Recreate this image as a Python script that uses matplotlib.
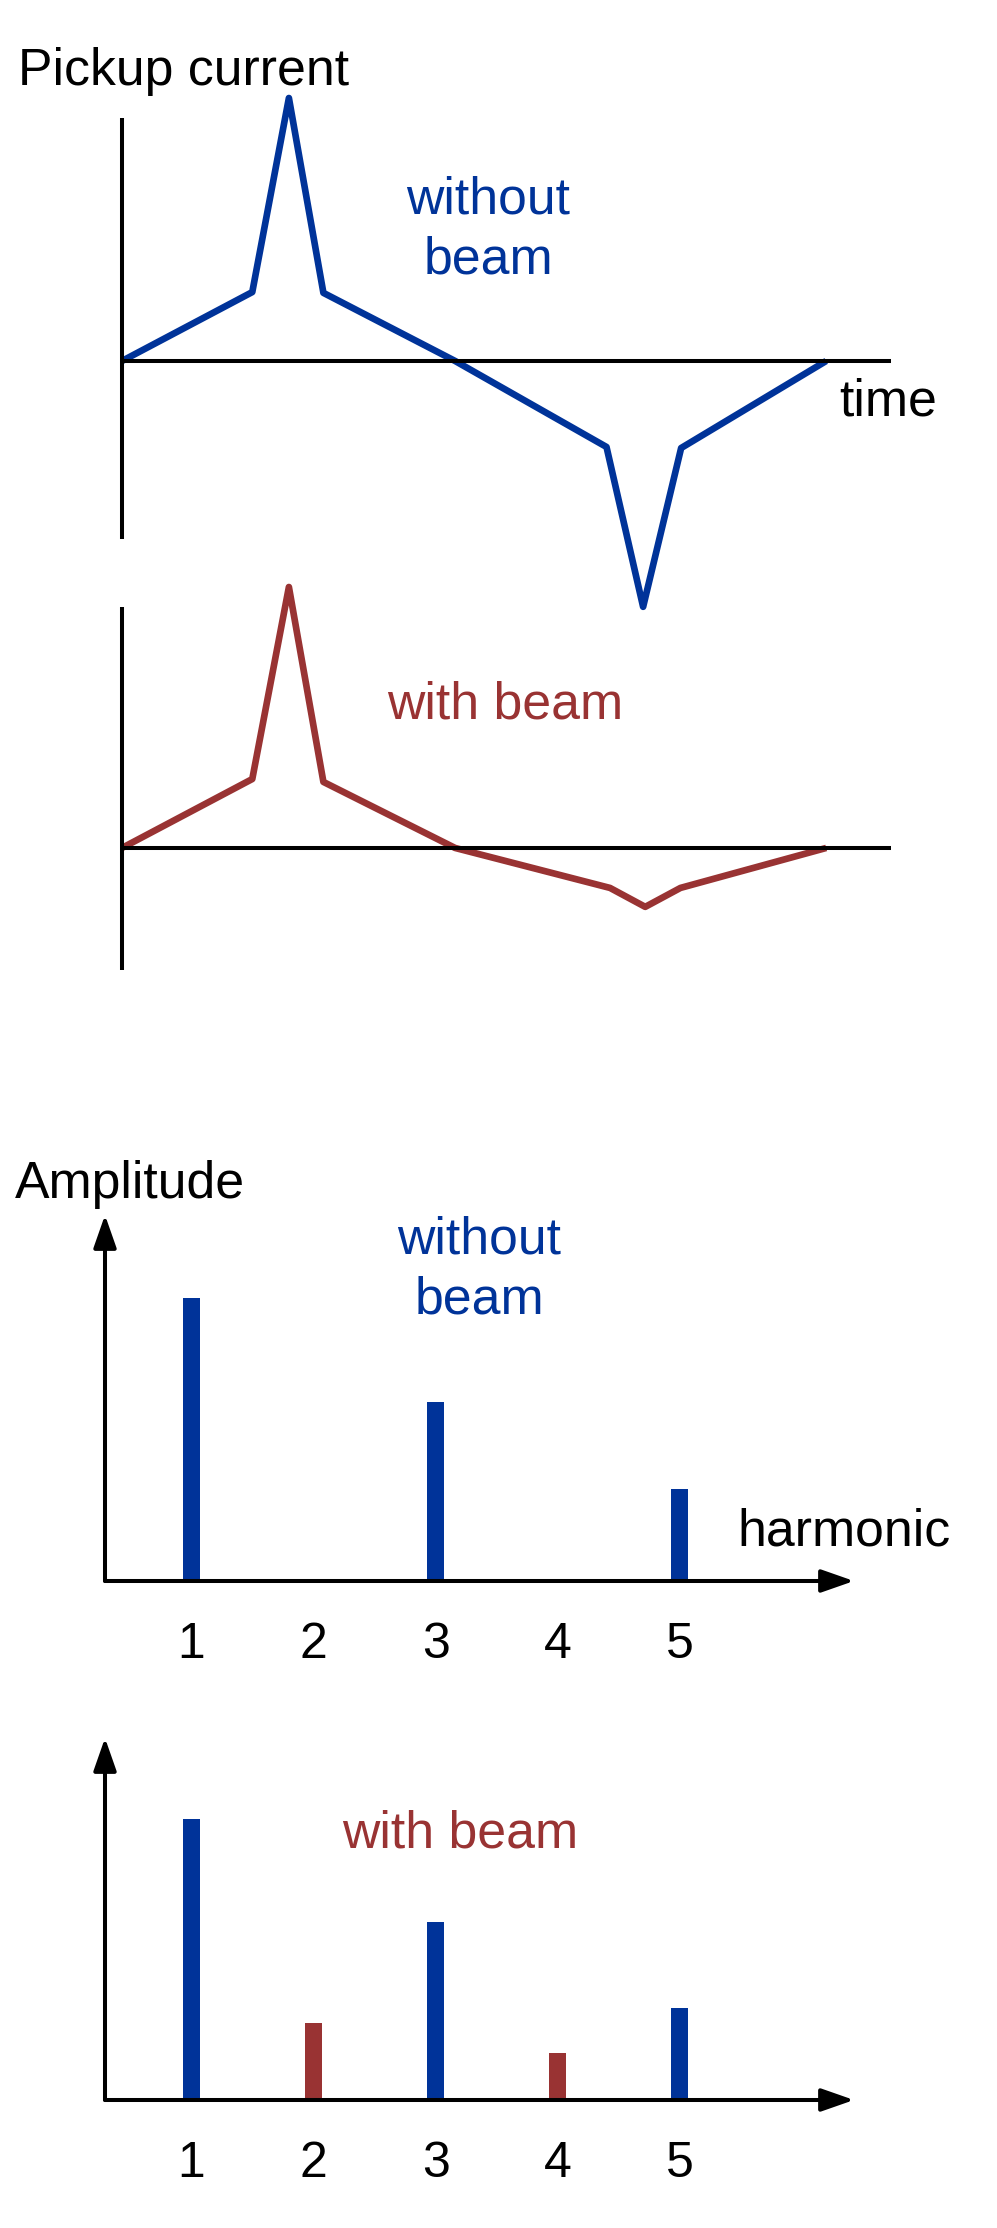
import matplotlib
matplotlib.use("Agg")
import matplotlib.pyplot as plt

# pickup signal, time in % of one period, current in % of the peak
time_pts = [0, 18.5, 23.7, 28.6, 47.3, 68.8, 74.0, 79.4, 100]
current_without = [0, 26.2, 100, 25.9, 0, -32.7, -93.5, -33.1, 0]
time_pts_beam = [0, 18.5, 23.7, 28.6, 47.3, 69.3, 74.3, 79.3, 100]
current_with = [0, 26.2, 99.2, 25.1, 0, -15.2, -22.4, -15.2, 0]

# harmonic spectrum, amplitude relative to the first harmonic
harmonics = [1, 2, 3, 4, 5]
amp_without = [1.0, 0.0, 0.633, 0.0, 0.325]
amp_with = [0.993, 0.272, 0.629, 0.166, 0.325]

BLUE = "#003399"
RED = "#993333"
W, H = 997, 2228
plt.rcParams["font.family"] = ["Liberation Sans", "DejaVu Sans"]
FS = 37.3
AXLW = 2.9
LINELW = 4.8

fig = plt.figure(figsize=(W / 100, H / 100), dpi=100)


def px_box(left, top, right, bottom):
    return [left / W, 1 - bottom / H, (right - left) / W, (bottom - top) / H]


def fig_text(x, y, s, **kw):
    fig.text(x / W, 1 - y / H, s, va="baseline", fontsize=FS, **kw)


def time_axes(box, ylim):
    ax = fig.add_axes(px_box(*box))
    ax.set_xlim(0, 109.2)
    ax.set_ylim(*ylim)
    for side in ["top", "right"]:
        ax.spines[side].set_visible(False)
    ax.spines["bottom"].set_position(("data", 0))
    for side in ["left", "bottom"]:
        ax.spines[side].set_linewidth(AXLW)
        ax.spines[side].set_capstyle("butt")
    ax.set_xticks([])
    ax.set_yticks([])
    ax.patch.set_visible(False)
    return ax


ax1 = time_axes((122, 118, 891, 539), (-67.7, 92.4))
ax1.plot(time_pts, current_without, color=BLUE, lw=LINELW, clip_on=False,
         solid_joinstyle="round", solid_capstyle="butt")
ax2 = time_axes((122, 607, 891, 970), (-46.4, 91.6))
ax2.plot(time_pts_beam, current_with, color=RED, lw=LINELW, clip_on=False,
         solid_joinstyle="round", solid_capstyle="butt")

fig_text(18, 85, "Pickup current")
fig_text(839, 415, "time")
fig_text(488.5, 213, "without", color=BLUE, ha="center")
fig_text(488.5, 273, "beam", color=BLUE, ha="center")
fig_text(505.5, 719, "with beam", color=RED, ha="center")


def spectrum_axes(box, ytop):
    ax = fig.add_axes(px_box(*box))
    ax.set_xlim(0.29, 6.43)
    ax.set_ylim(0, ytop)
    ax.set_axis_off()
    style = "-|>,head_length=2.0,head_width=0.7"
    for tip in [(1, 0), (0, 1)]:
        ax.annotate("", xy=tip, xytext=(0, 0), xycoords="axes fraction",
                    textcoords="axes fraction", annotation_clip=False,
                    arrowprops=dict(arrowstyle=style, mutation_scale=10,
                                    lw=AXLW, color="black", shrinkA=0,
                                    shrinkB=0, zorder=5))
    for h in harmonics:
        ax.text(h, -0.272, str(h), ha="center", va="baseline",
                fontsize=36, clip_on=False)
    return ax


ax3 = spectrum_axes((105, 1215, 854, 1581), 1.293)
h_on = [h for h, a in zip(harmonics, amp_without) if a > 0]
a_on = [a for a in amp_without if a > 0]
ax3.bar(h_on, a_on, width=0.145, color=BLUE, zorder=2)

ax4 = spectrum_axes((105, 1738, 854, 2100), 1.279)
bar_colors = [BLUE if h % 2 == 1 else RED for h in harmonics]
ax4.bar(harmonics, amp_with, width=0.145, color=bar_colors, zorder=2)

fig_text(15, 1198, "Amplitude")
fig_text(737, 1546, "harmonic")
fig_text(479.5, 1254, "without", color=BLUE, ha="center")
fig_text(479.5, 1314, "beam", color=BLUE, ha="center")
fig_text(460.5, 1847, "with beam", color=RED, ha="center")

fig.savefig("out.png", dpi=100)
